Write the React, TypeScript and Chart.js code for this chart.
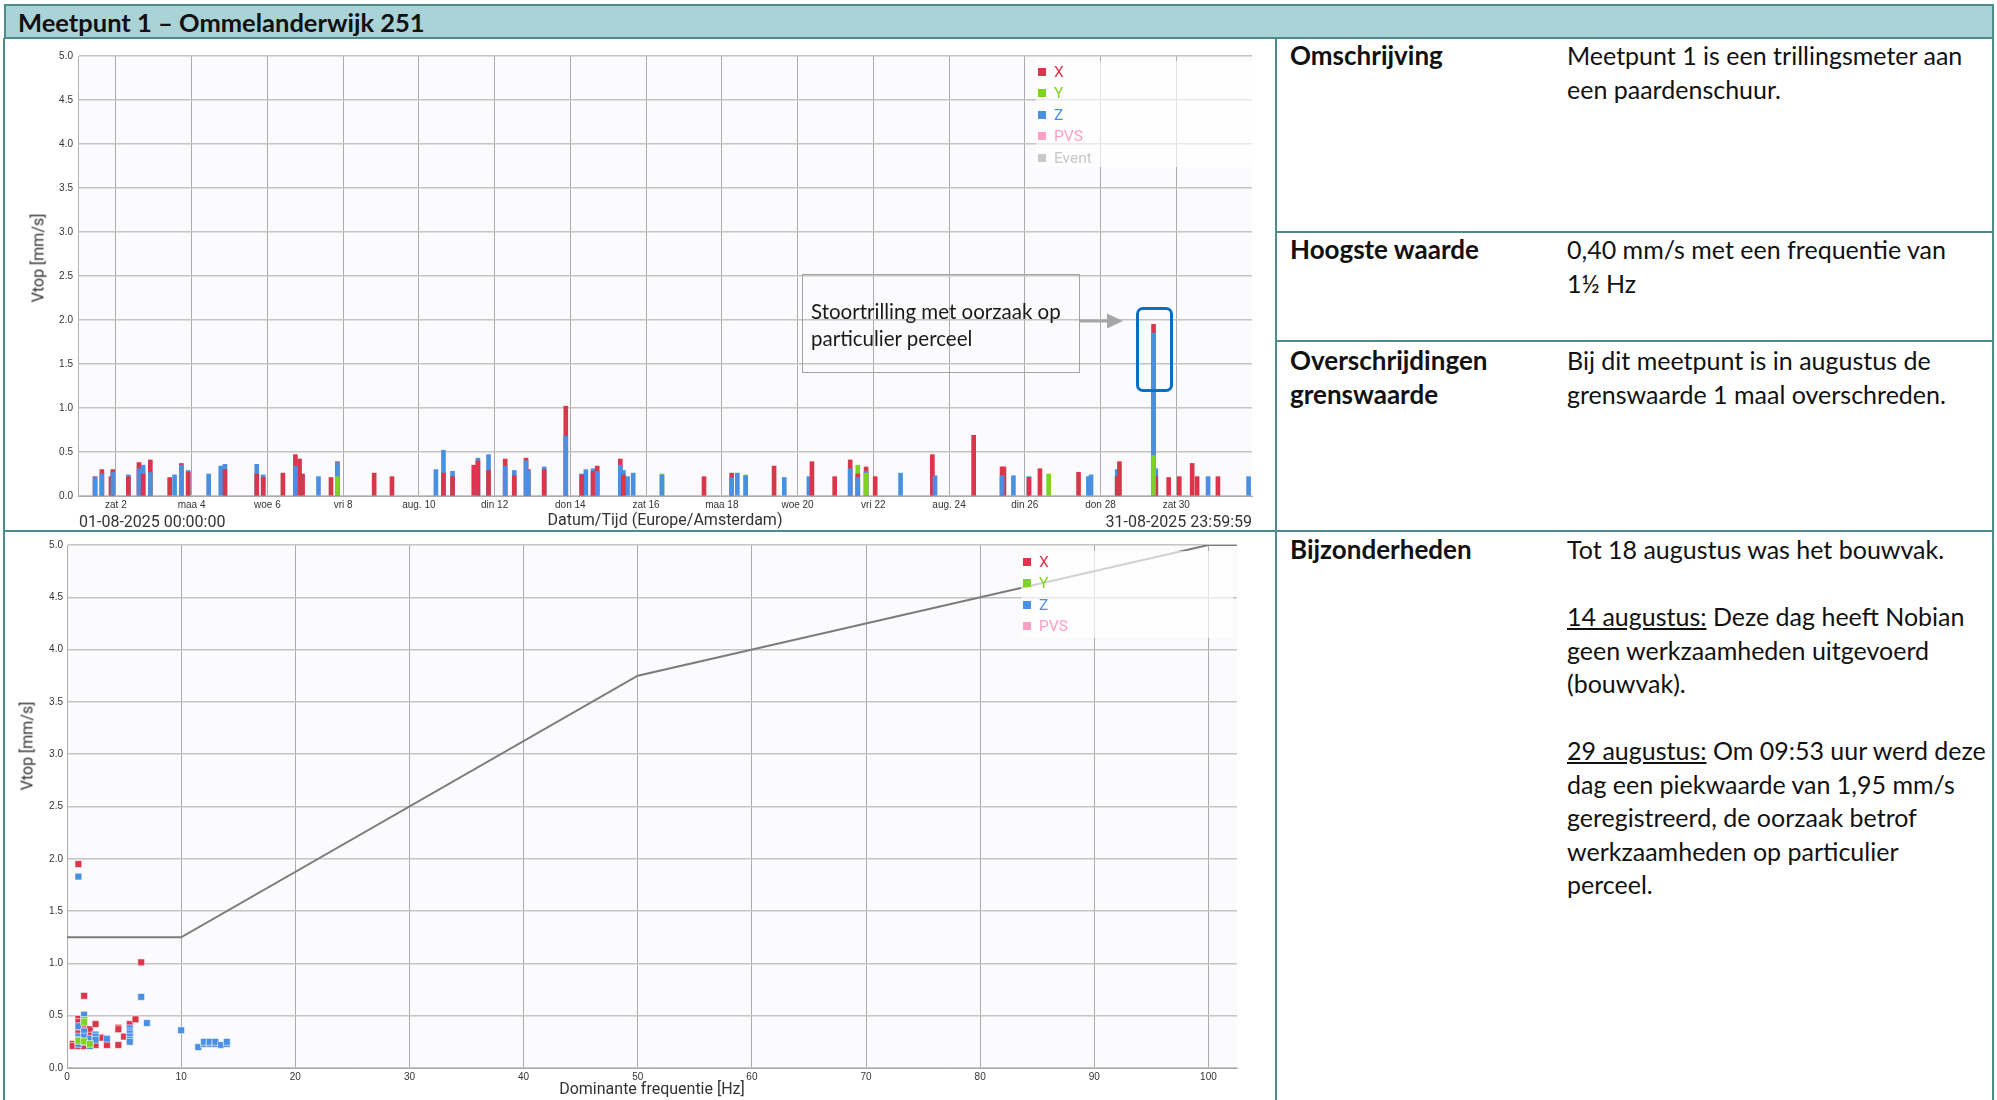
import React, { useEffect, useRef } from "react";
import { Chart, registerables } from "chart.js";

Chart.register(...registerables);

// ---------- DATA ----------
const TICK_DAYS = [1, 3, 5, 7, 9, 11, 13, 15, 17, 19, 21, 23, 25, 27, 29];
const TICK_LABELS = ["zat 2", "maa 4", "woe 6", "vri 8", "aug. 10", "din 12", "don 14", "zat 16", "maa 18", "woe 20", "vri 22", "aug. 24", "din 26", "don 28", "zat 30"];
const FREQ_TICKS = [0, 10, 20, 30, 40, 50, 60, 70, 80, 90, 100];

// event time in days since 01-08-2025 00:00
const EVENT_DAY = [0.45, 0.63, 0.87, 0.92, 1.33, 1.61, 1.72, 1.91, 2.42, 2.55, 2.73, 2.91, 3.45, 3.77, 3.88, 4.72, 4.89, 5.41, 5.74, 5.85, 5.93, 6.35, 6.68, 6.85, 7.82, 8.29, 9.45, 9.65, 9.89, 10.45, 10.56, 10.84, 11.28, 11.52, 11.83, 11.89, 12.31, 12.88, 13.3, 13.41, 13.6, 13.71, 14.32, 14.4, 14.51, 14.66, 15.42, 16.53, 17.26, 17.41, 17.63, 18.38, 18.65, 19.3, 19.38, 19.98, 20.39, 20.59, 20.81, 21.05, 21.72, 22.56, 22.63, 23.65, 24.4, 24.45, 24.7, 25.11, 25.4, 25.63, 26.42, 26.68, 26.75, 27.44, 27.5, 28.4, 28.46, 28.8, 29.08, 29.42, 29.55, 29.84, 30.1, 30.91];
const EVENT_X = [0.22, 0.30, 0.22, 0.30, 0.22, 0.38, 0.25, 0.41, 0.21, 0, 0.37, 0.27, 0, 0, 0.30, 0.25, 0.21, 0.26, 0.47, 0.42, 0.25, 0, 0.21, 0.39, 0.26, 0.22, 0, 0.26, 0.22, 0.35, 0.40, 0.29, 0.42, 0.23, 0.43, 0.30, 0.30, 1.02, 0.24, 0, 0.28, 0.34, 0.42, 0.24, 0, 0, 0, 0.22, 0.26, 0, 0, 0.34, 0, 0, 0.39, 0.22, 0.41, 0.25, 0.33, 0.22, 0, 0.47, 0, 0.69, 0.33, 0.33, 0, 0.21, 0.31, 0, 0.27, 0, 0, 0.22, 0.39, 1.95, 0.22, 0.21, 0.22, 0.37, 0.22, 0, 0.22, 0];
const EVENT_Y = [0, 0, 0, 0, 0, 0, 0, 0, 0, 0, 0, 0, 0, 0, 0, 0, 0, 0, 0, 0, 0, 0, 0, 0.22, 0, 0, 0, 0, 0, 0, 0, 0, 0, 0, 0, 0, 0, 0, 0, 0, 0, 0, 0, 0, 0, 0, 0.25, 0, 0, 0, 0.24, 0, 0, 0, 0, 0, 0, 0.35, 0.26, 0, 0, 0, 0, 0, 0, 0, 0, 0, 0, 0.25, 0, 0, 0, 0, 0, 0.46, 0, 0, 0, 0, 0, 0, 0, 0];
const EVENT_Z = [0.21, 0.25, 0, 0.27, 0.24, 0.31, 0.35, 0.27, 0, 0.24, 0.35, 0.29, 0.25, 0.34, 0.36, 0.36, 0.24, 0, 0.34, 0, 0, 0.22, 0, 0.38, 0, 0, 0.30, 0.52, 0.28, 0, 0.43, 0.47, 0.34, 0.29, 0.40, 0.29, 0.33, 0.68, 0.25, 0.30, 0.31, 0.28, 0.35, 0.29, 0.22, 0.26, 0.24, 0, 0.21, 0.26, 0.23, 0, 0.21, 0.22, 0, 0, 0.31, 0.21, 0.28, 0, 0.26, 0, 0.23, 0, 0.23, 0, 0.23, 0.22, 0, 0, 0, 0.22, 0.24, 0.30, 0, 1.85, 0.31, 0, 0, 0, 0, 0.22, 0, 0.22];

// scatter: dominant frequency [Hz] and Vtop [mm/s]
const FREQ_X = [0.5, 0.5, 1, 1, 1, 1, 1, 1, 1, 1.5, 1.5, 1.5, 1.5, 1.5, 1.5, 2, 2, 2, 2.5, 2.5, 2.5, 3, 3.5, 4.5, 4.5, 4.5, 5, 5.5, 6, 6.5];
const VTOP_X = [0.23, 0.21, 1.95, 0.47, 0.44, 0.36, 0.33, 0.27, 0.21, 0.69, 0.42, 0.39, 0.36, 0.26, 0.21, 0.37, 0.31, 0.26, 0.42, 0.26, 0.22, 0.29, 0.22, 0.385, 0.37, 0.22, 0.30, 0.42, 0.465, 1.01];
const FREQ_Y = [1, 1.5, 1.5, 1.5, 2];
const VTOP_Y = [0.26, 0.46, 0.44, 0.255, 0.23];
const FREQ_Z = [1, 1, 1, 1, 1, 1.5, 1.5, 1.5, 1.5, 2, 2, 2.5, 2.5, 2.5, 3.5, 5.5, 5.5, 5.5, 5.5, 5.5, 5.5, 6.5, 7, 10, 11.5, 12, 12, 12.5, 12.5, 13, 13, 13.5, 14, 14];
const VTOP_Z = [1.83, 0.40, 0.30, 0.27, 0.23, 0.51, 0.35, 0.30, 0.25, 0.28, 0.21, 0.32, 0.30, 0.27, 0.28, 0.38, 0.35, 0.33, 0.30, 0.27, 0.25, 0.68, 0.43, 0.36, 0.20, 0.23, 0.25, 0.23, 0.25, 0.23, 0.25, 0.22, 0.23, 0.25];

// limit line (grenswaarde)
const LIMIT_FREQ = [0, 10, 50, 100, 102.5];
const LIMIT_VTOP = [1.25, 1.25, 3.75, 5, 5];

// ---------- STYLE ----------
const C_X = "#d9364c";
const C_Y = "#7ed321";
const C_Z = "#4a90e2";
const C_PVS = "#ff9ec4";
const C_EVENT = "#c8c8c8";
const TEAL = "#4d8c8d";
const CHART_FONT = "Roboto, 'Noto Sans', sans-serif";
const TICK_FONT = "'Liberation Sans', Arial, sans-serif";
const DOC_FONT = "Lato, 'Noto Sans', sans-serif";

const plotBg = {
  id: "plotBg",
  beforeDraw(chart: any) {
    const { ctx, chartArea } = chart;
    if (!chartArea) return;
    ctx.save();
    ctx.fillStyle = "#fbfbfd";
    ctx.fillRect(chartArea.left, chartArea.top, chartArea.right - chartArea.left, chartArea.bottom - chartArea.top);
    ctx.restore();
  },
};

function TimeChart() {
  const ref = useRef<HTMLCanvasElement | null>(null);
  useEffect(() => {
    const layers: any[][] = [[], [], []];
    const colors: string[][] = [[], [], []];
    EVENT_DAY.forEach((d, i) => {
      const vals = [
        { v: EVENT_X[i], c: C_X },
        { v: EVENT_Y[i], c: C_Y },
        { v: EVENT_Z[i], c: C_Z },
      ]
        .filter((e) => e.v > 0)
        .sort((a, b) => b.v - a.v);
      vals.forEach((e, k) => {
        layers[k].push({ x: d, y: e.v });
        colors[k].push(e.c);
      });
    });
    const chart = new Chart(ref.current as HTMLCanvasElement, {
      type: "bar",
      data: {
        datasets: layers.map((data, k) => ({
          label: "layer" + k,
          data,
          backgroundColor: colors[k],
          borderWidth: 0,
          barThickness: 4,
          grouped: false,
          order: 2 - k,
        })) as any,
      },
      options: {
        animation: false,
        responsive: false,
        maintainAspectRatio: false,
        layout: { padding: { top: 18, right: 24, left: 0, bottom: 0 } },
        plugins: { legend: { display: false }, tooltip: { enabled: false } },
        scales: {
          x: {
            type: "linear",
            min: 0,
            max: 31,
            offset: false,
            afterBuildTicks: (s: any) => {
              s.ticks = TICK_DAYS.map((v) => ({ value: v }));
            },
            afterFit: (s: any) => {
              s.height = 35;
            },
            ticks: {
              autoSkip: false,
              maxRotation: 0,
              padding: 3,
              color: "#333",
              font: { family: TICK_FONT, size: 10 },
              callback: (v: any) => TICK_LABELS[TICK_DAYS.indexOf(Number(v))] ?? "",
            },
            grid: { color: "#ababab", lineWidth: 1, drawTicks: false, offset: false },
            border: { display: true, color: "#ababab" },
            title: {
              display: true,
              text: "Datum/Tijd (Europe/Amsterdam)",
              color: "#333",
              font: { family: CHART_FONT, size: 16 },
              padding: { top: 0, bottom: 0 },
            },
          },
          y: {
            min: 0,
            max: 5,
            afterFit: (s: any) => {
              s.width = 74;
            },
            ticks: {
              stepSize: 0.5,
              padding: 5,
              color: "#333",
              font: { family: TICK_FONT, size: 10 },
              callback: (v: any) => Number(v).toFixed(1),
            },
            grid: { color: "#c4c4c4", lineWidth: 1.5, drawTicks: false },
            border: { display: true, color: "#b5b5b5" },
          },
        },
      },
      plugins: [plotBg],
    } as any);
    return () => chart.destroy();
  }, []);
  return <canvas ref={ref} width={1272} height={493} style={{ position: "absolute", left: 4, top: 38, width: 1272, height: 493 }} />;
}

function FreqChart() {
  const ref = useRef<HTMLCanvasElement | null>(null);
  useEffect(() => {
    const pts = (f: number[], v: number[]) => f.map((x, i) => ({ x, y: v[i] }));
    const sq = (label: string, color: string, data: any[], order: number) => ({
      label,
      data,
      backgroundColor: color,
      borderColor: "rgba(255,255,255,0.55)",
      borderWidth: 1,
      pointStyle: "rect",
      pointRadius: 4.8,
      order,
    });
    const chart = new Chart(ref.current as HTMLCanvasElement, {
      type: "scatter",
      data: {
        datasets: [
          sq("Z", C_Z, pts(FREQ_Z, VTOP_Z), 1),
          sq("X", C_X, pts(FREQ_X, VTOP_X), 2),
          sq("Y", C_Y, pts(FREQ_Y, VTOP_Y), 0),
          sq("PVS", C_PVS, [], 3),
          {
            type: "line",
            label: "Grenswaarde",
            data: pts(LIMIT_FREQ, LIMIT_VTOP),
            borderColor: "#7c7c7c",
            borderWidth: 2,
            pointRadius: 0,
            showLine: true,
            fill: false,
            order: 10,
          },
        ] as any,
      },
      options: {
        animation: false,
        responsive: false,
        maintainAspectRatio: false,
        layout: { padding: { top: 13, right: 39, left: 0, bottom: 0 } },
        plugins: { legend: { display: false }, tooltip: { enabled: false } },
        scales: {
          x: {
            type: "linear",
            min: 0,
            max: 102.5,
            afterBuildTicks: (s: any) => {
              s.ticks = FREQ_TICKS.map((v) => ({ value: v }));
            },
            afterFit: (s: any) => {
              s.height = 32;
            },
            ticks: {
              padding: 3,
              color: "#333",
              font: { family: TICK_FONT, size: 10 },
              callback: (v: any) => String(v),
            },
            grid: { color: "#ababab", lineWidth: 1, drawTicks: false },
            border: { display: true, color: "#ababab" },
            title: {
              display: true,
              text: "Dominante frequentie [Hz]",
              color: "#333",
              font: { family: CHART_FONT, size: 16 },
              padding: { top: 0, bottom: 0 },
            },
          },
          y: {
            min: 0,
            max: 5,
            afterFit: (s: any) => {
              s.width = 63;
            },
            ticks: {
              stepSize: 0.5,
              padding: 4,
              color: "#333",
              font: { family: TICK_FONT, size: 10 },
              callback: (v: any) => Number(v).toFixed(1),
            },
            grid: { color: "#c4c4c4", lineWidth: 1.5, drawTicks: false },
            border: { display: true, color: "#ababab" },
          },
        },
      },
      plugins: [plotBg],
    } as any);
    return () => chart.destroy();
  }, []);
  return <canvas ref={ref} width={1272} height={568} style={{ position: "absolute", left: 4, top: 532, width: 1272, height: 568 }} />;
}

function Legend({ left, top, width, height, items }: { left: number; top: number; width: number; height: number; items: [string, string][] }) {
  return (
    <div style={{ position: "absolute", left, top, width, height, background: "rgba(255,255,255,0.65)" }}>
      {items.map(([label, color], i) => (
        <div key={label} style={{ position: "absolute", left: 2, top: 1 + i * 21.4, height: 20, display: "flex", alignItems: "center", font: `15.5px ${CHART_FONT}`, color }}>
          <span style={{ display: "inline-block", width: 8, height: 8, background: color, marginRight: 8 }} />
          {label}
        </div>
      ))}
    </div>
  );
}

const abs = (left: number, top: number, extra: any = {}) => ({ position: "absolute" as const, left, top, ...extra });

export default function App() {
  const docText = { font: `25px ${DOC_FONT}`, lineHeight: "33.5px", color: "#111", whiteSpace: "nowrap" as const };
  const docLabel = { font: `bold 26px ${DOC_FONT}`, lineHeight: "33.5px", color: "#111", whiteSpace: "nowrap" as const };
  return (
    <div style={{ position: "absolute", left: 0, top: 0, width: 1997, height: 1100, background: "#fff", overflow: "hidden" }}>
      <TimeChart />
      <FreqChart />

      {/* y-axis titles */}
      <div style={abs(38, 258, { transform: "translate(-50%,-50%) rotate(-90deg)", font: `16px ${CHART_FONT}`, color: "#333", whiteSpace: "nowrap" })}>Vtop [mm/s]</div>
      <div style={abs(27, 746, { transform: "translate(-50%,-50%) rotate(-90deg)", font: `16px ${CHART_FONT}`, color: "#333", whiteSpace: "nowrap" })}>Vtop [mm/s]</div>

      {/* footer of time chart */}
      <div style={abs(79, 513, { font: `16px ${CHART_FONT}`, lineHeight: "18px", color: "#333" })}>01-08-2025 00:00:00</div>
      <div style={{ position: "absolute", right: 1997 - 1252, top: 513, font: `16px ${CHART_FONT}`, lineHeight: "18px", color: "#333" }}>31-08-2025 23:59:59</div>

      {/* legends */}
      <Legend left={1036} top={61} width={216} height={106} items={[["X", C_X], ["Y", C_Y], ["Z", C_Z], ["PVS", C_PVS], ["Event", C_EVENT]]} />
      <Legend left={1021} top={551} width={212} height={87} items={[["X", C_X], ["Y", C_Y], ["Z", C_Z], ["PVS", C_PVS]]} />

      {/* annotation */}
      <div style={abs(802, 274, { width: 278, height: 99, border: "1.5px solid #a3a3a3", boxSizing: "border-box" })} />
      <div style={abs(811, 298, { font: `20.5px ${DOC_FONT}`, lineHeight: "27px", color: "#1a1a1a", whiteSpace: "nowrap" })}>
        Stoortrilling met oorzaak op
        <br />
        particulier perceel
      </div>
      <svg style={abs(1078, 310)} width={50} height={24}>
        <line x1={2} y1={11} x2={30} y2={11} stroke="#a6a6a6" strokeWidth={3} />
        <polygon points="29,3.5 45,11 29,18.5" fill="#a6a6a6" />
      </svg>
      <div style={abs(1136, 307, { width: 37, height: 85, border: "3px solid #0b6fc1", borderRadius: 7, boxSizing: "border-box" })} />

      {/* frame */}
      <div style={abs(4, 4, { width: 1990, height: 35, background: "#a9d3d7", border: `2px solid ${TEAL}`, boxSizing: "border-box" })} />
      <div style={abs(18, 4, { height: 35, display: "flex", alignItems: "center", font: `bold 25.5px ${DOC_FONT}`, color: "#111", whiteSpace: "nowrap" })}>Meetpunt 1 – Ommelanderwijk 251</div>
      <div style={abs(3, 38, { width: 2, height: 1062, background: TEAL })} />
      <div style={abs(1992, 38, { width: 2, height: 1062, background: TEAL })} />
      <div style={abs(1275, 38, { width: 2, height: 1062, background: TEAL })} />
      <div style={abs(3, 530, { width: 1991, height: 2, background: TEAL })} />
      <div style={abs(1275, 231, { width: 719, height: 2, background: TEAL })} />
      <div style={abs(1275, 340, { width: 719, height: 2, background: TEAL })} />

      {/* table */}
      <div style={abs(1290, 39, docLabel)}>Omschrijving</div>
      <div style={abs(1567, 39, docText)}>
        Meetpunt 1 is een trillingsmeter aan
        <br />
        een paardenschuur.
      </div>
      <div style={abs(1290, 233, docLabel)}>Hoogste waarde</div>
      <div style={abs(1567, 233, docText)}>
        0,40 mm/s met een frequentie van
        <br />
        1½ Hz
      </div>
      <div style={abs(1290, 344, docLabel)}>
        Overschrijdingen
        <br />
        grenswaarde
      </div>
      <div style={abs(1567, 344, docText)}>
        Bij dit meetpunt is in augustus de
        <br />
        grenswaarde 1 maal overschreden.
      </div>
      <div style={abs(1290, 533, docLabel)}>Bijzonderheden</div>
      <div style={abs(1567, 533, docText)}>
        Tot 18 augustus was het bouwvak.
        <br />
        <br />
        <u>14 augustus:</u> Deze dag heeft Nobian
        <br />
        geen werkzaamheden uitgevoerd
        <br />
        (bouwvak).
        <br />
        <br />
        <u>29 augustus:</u> Om 09:53 uur werd deze
        <br />
        dag een piekwaarde van 1,95 mm/s
        <br />
        geregistreerd, de oorzaak betrof
        <br />
        werkzaamheden op particulier
        <br />
        perceel.
      </div>
    </div>
  );
}
